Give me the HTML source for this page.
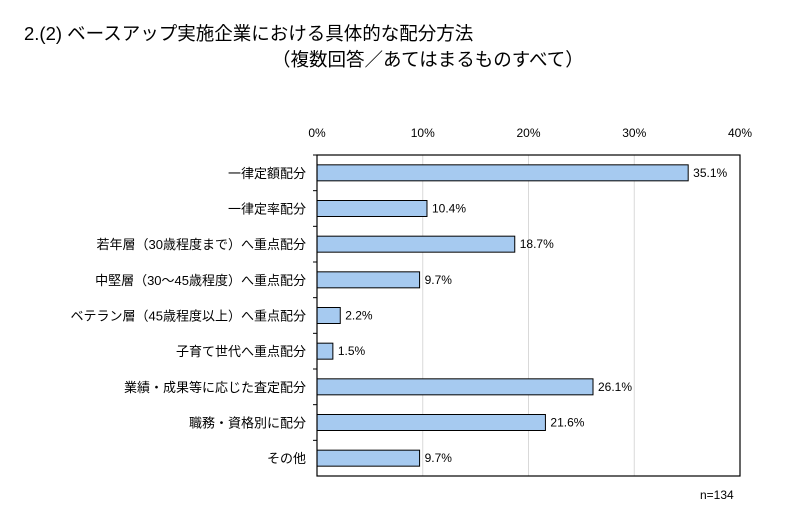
<!DOCTYPE html>
<html><head><meta charset="utf-8"><style>
body{margin:0;background:#fff;width:800px;height:514px;overflow:hidden;font-family:"Liberation Sans","Noto Sans CJK JP",sans-serif}
</style></head><body>
<svg width="800" height="514" xmlns="http://www.w3.org/2000/svg" font-family="Liberation Sans, Noto Sans CJK JP, sans-serif">
<text x="24" y="40" font-size="18.5" fill="#000">2.(2) ベースアップ実施企業における具体的な配分方法</text>
<text x="272" y="66" font-size="18.5" fill="#000">（複数回答／あてはまるものすべて）</text>
<g id="plot"></g>
<text x="700" y="499" font-size="12" fill="#000">n=134</text>
</svg>
<script>
const categories=["一律定額配分","一律定率配分","若年層（30歳程度まで）へ重点配分","中堅層（30～45歳程度）へ重点配分","ベテラン層（45歳程度以上）へ重点配分","子育て世代へ重点配分","業績・成果等に応じた査定配分","職務・資格別に配分","その他"];
const values=[35.1,10.4,18.7,9.7,2.2,1.5,26.1,21.6,9.7];
const ticks=[0,10,20,30,40];
const NS="http://www.w3.org/2000/svg";
const L=317,R=740,T=155,B=476,maxV=40;
const x=v=>L+(R-L)*v/maxV;
const band=(B-T)/categories.length;
const y=i=>T+band*i;
const g=document.getElementById('plot');
function mk(t,a){const e=document.createElementNS(NS,t);for(const k in a)e.setAttribute(k,a[k]);g.appendChild(e);return e;}
ticks.forEach((t,i)=>{
 if(i>0&&i<ticks.length-1){const l=mk('line',{x1:x(t),x2:x(t),y1:T,y2:B,stroke:'#d9d9d9','stroke-width':1});
 
 }
 const tx=mk('text',{x:x(t),y:137,'text-anchor':'middle','font-size':12});
 tx.textContent=t+'%';
 
 
});
categories.forEach((c,i)=>{
 const yc=y(i)+band/2;
 const r=mk('rect',{x:L,y:yc-8,width:x(values[i])-L,height:16,fill:'#a6caf0',stroke:'#000','stroke-width':1});
 
 
 const v=mk('text',{x:x(values[i])+5,y:yc+4,'font-size':12});
 v.textContent=values[i].toFixed(1)+'%';
 
 
 const lb=mk('text',{x:L-11,y:yc+5,'text-anchor':'end','font-size':13});
 lb.textContent=c;
 
 
 const tk=mk('line',{x1:L-4,x2:L,y1:y(i),y2:y(i),stroke:'#000'});
 
 
});
const f=mk('rect',{x:L,y:T,width:R-L,height:B-T,fill:'none',stroke:'#000','stroke-width':1.2});


</script>
</body></html>
